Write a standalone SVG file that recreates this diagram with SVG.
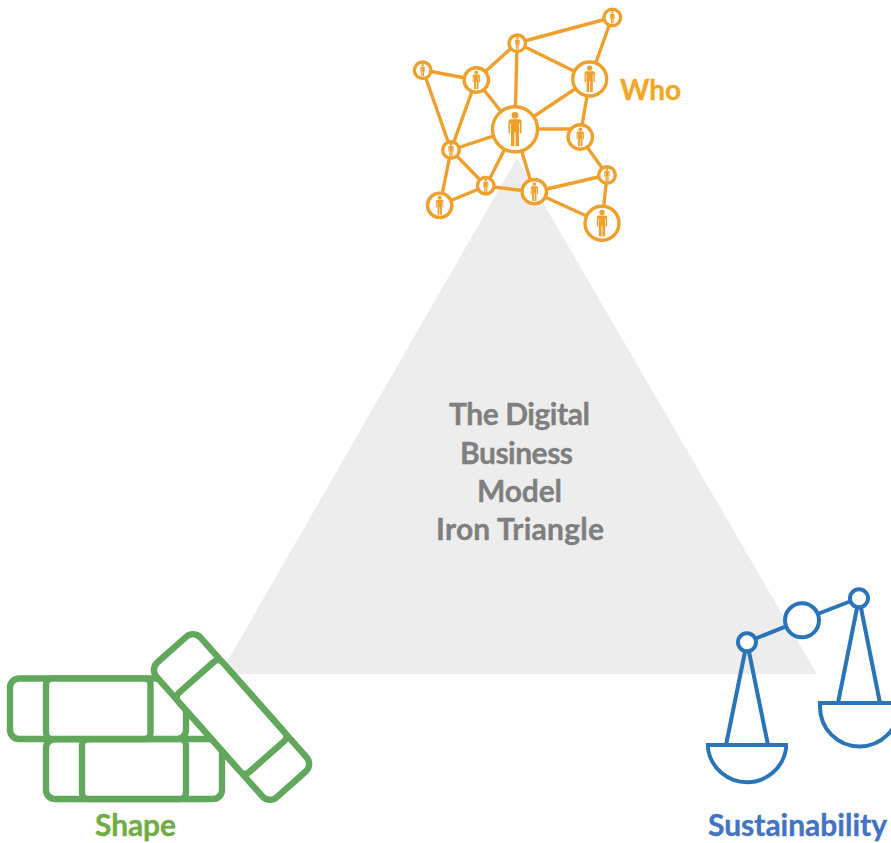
<svg xmlns="http://www.w3.org/2000/svg" width="891" height="843" viewBox="0 0 891 843">
<style>
text{font-family:"Lato","Open Sans","Liberation Sans",sans-serif;font-weight:700;font-size:30px;stroke-width:.35}
.c{fill:#7f7f7f;stroke:#7f7f7f}
.o{fill:#fff;stroke:#efa02c;stroke-width:3.4}
.e{stroke:#efa02c;stroke-width:3.4;fill:none}
.g{fill:#fff;stroke:#62a85c;stroke-width:6.400}
.b{fill:none;stroke:#2a75b9;stroke-width:4}
.bc{fill:#fff;stroke:#2a75b9;stroke-width:4}
</style>
<defs>
<g id="p"><circle cx="0" cy="-14" r="3.4" fill="#efa02c"/><path d="M-4.500-10H4.500Q6.600-10 6.600-8V4H4.800V-6H4V17H.6V3H-.6V17H-4V-6H-4.800V4H-6.600V-8Q-6.600-10-4.500-10Z" fill="#efa02c"/></g>
</defs>
<g id="triangle"><path d="M517 158L817 674H220Z" fill="#ededed"/>
<g class="c"><text x="449" y="425" textLength="141">The Digital</text><text x="460" y="464" textLength="113">Business</text><text x="477" y="502" textLength="85">Model</text><text x="436" y="540" textLength="168">Iron Triangle</text></g></g>
<g id="connectors" class="e">
<path d="M612 17.500L517 43M612 17.500L590 79M517 43L590 79M517 43L476 80M517 43L515 129M423 70L476 80M423 70L451 150M476 80L515 129M476 80L451 150M590 79L515 129M590 79L580 137M515 129H580M515 129L451 150M515 129L486 186M515 129L534 192M580 137L607 175M451 150L486 186M451 150L440 205M486 186L534 192M486 186L440 205M534 192L607 175M534 192L602 223M607 175L602 223"/>
</g>
<g id="node-a"><circle class="o" cx="612.300" cy="17.500" r="8.300"/><use href="#p" transform="translate(612.300 17.500) scale(.36)"/></g>
<g id="node-b"><circle class="o" cx="517.300" cy="43.300" r="8.300"/><use href="#p" transform="translate(517.300 43.300) scale(.36)"/></g>
<g id="node-c"><circle class="o" cx="422.700" cy="70.300" r="8.300"/><use href="#p" transform="translate(422.700 70.300) scale(.36)"/></g>
<g id="node-d"><circle class="o" cx="476.300" cy="80" r="12.200"/><use href="#p" transform="translate(476.300 80) scale(.55)"/></g>
<g id="node-e"><circle class="o" cx="589.700" cy="79" r="17"/><use href="#p" transform="translate(589.700 79) scale(.78)"/></g>
<g id="node-f"><circle class="o" cx="515" cy="129.300" r="22.500"/><use href="#p" transform="translate(515 129.300)"/></g>
<g id="node-g"><circle class="o" cx="580.300" cy="137" r="12.200"/><use href="#p" transform="translate(580.300 137) scale(.55)"/></g>
<g id="node-h"><circle class="o" cx="451" cy="150" r="8.300"/><use href="#p" transform="translate(451 150) scale(.4)"/></g>
<g id="node-i"><circle class="o" cx="607" cy="175" r="8.300"/><use href="#p" transform="translate(607 175) scale(.4)"/></g>
<g id="node-j"><circle class="o" cx="485.700" cy="185.700" r="8.300"/><use href="#p" transform="translate(485.700 185.700) scale(.4)"/></g>
<g id="node-k"><circle class="o" cx="534.300" cy="191.700" r="12.200"/><use href="#p" transform="translate(534.300 191.700) scale(.55)"/></g>
<g id="node-l"><circle class="o" cx="439.700" cy="205.300" r="12.200"/><use href="#p" transform="translate(439.700 205.300) scale(.55)"/></g>
<g id="node-m"><circle class="o" cx="602" cy="223.300" r="17"/><use href="#p" transform="translate(602 223.300) scale(.78)"/></g>
<g id="who"><text x="620" y="100" textLength="61" style="font-size:28px" fill="#f5a623" stroke="#f5a623">Who</text></g>
<g id="shape">
<rect class="g" x="46" y="739" width="176" height="60" rx="9"/>
<rect class="g" x="82" y="739" width="104" height="60" rx="6"/>
<rect class="g" x="10" y="678.500" width="176" height="60.500" rx="9"/>
<rect class="g" x="46" y="678.500" width="104.500" height="60.500" rx="6"/>
<g transform="translate(231.500 717) rotate(48.500)">
<rect class="g" x="-90" y="-29.500" width="180" height="59" rx="10"/>
<rect class="g" x="-53" y="-29.500" width="106" height="59" rx="6"/>
</g>
<text x="95" y="836" textLength="81" fill="#70ad47" stroke="#70ad47">Shape</text>
</g>
<g id="sustainability">
<path class="b" d="M747 642L802 620L859 598M747 642L726 745M747 642L768 745M859 598L838 703M859 598L880 703"/>
<path class="b" d="M708 745H786V749A39.500 39.500 0 0 1 708 749Z"/>
<path class="b" d="M820 703H899V707A39.500 39.500 0 0 1 820 707Z"/>
<circle class="bc" cx="747" cy="642.300" r="9"/>
<circle class="bc" cx="802" cy="620.300" r="17"/>
<circle class="bc" cx="859" cy="598.300" r="9"/>
<text x="708" y="836" textLength="179" fill="#4472c4" stroke="#4472c4">Sustainability</text>
</g>
</svg>
